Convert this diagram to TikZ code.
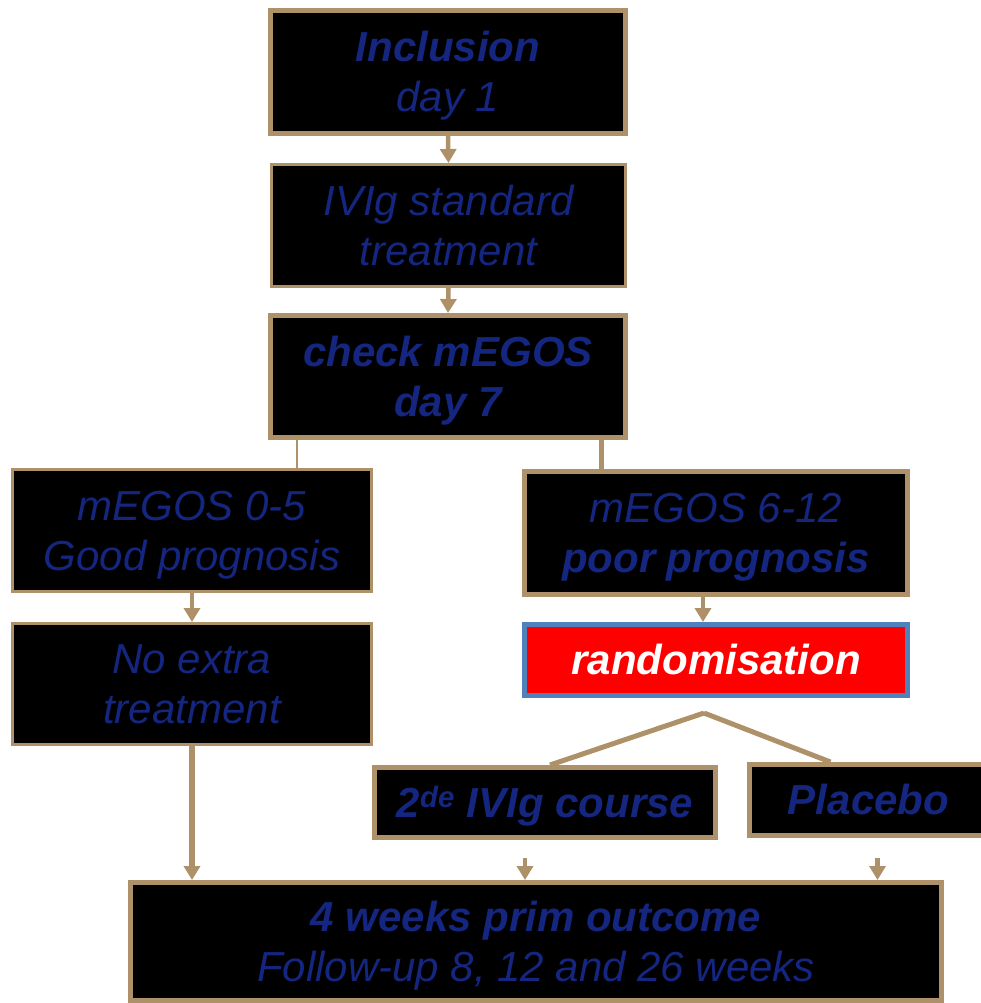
\documentclass[tikz,border=0pt]{standalone}
\usepackage{fontspec}
\setmainfont{Liberation Sans}
\usetikzlibrary{arrows.meta,calc}
\definecolor{tan}{RGB}{175,145,105}
\definecolor{navy}{RGB}{20,38,128}
\definecolor{randblue}{RGB}{79,129,189}
\definecolor{randred}{RGB}{255,0,0}
\newcommand{\topstr}{\rule{0pt}{38pt}}
\newcommand{\botstr}{\rule[-9pt]{0pt}{9pt}}
\begin{document}
\begin{tikzpicture}[x=1pt,y=-1pt,
  box/.style={draw=tan,fill=black,line width=5pt,rectangle,inner sep=0pt,
    text=navy,align=center,font=\fontsize{42}{50}\selectfont\itshape},
  thinbox/.style={box,line width=3pt},
  randbox/.style={box,draw=randblue,fill=randred,text=white},
  arr/.style={draw=tan,line width=4.5pt,-{Triangle[width=16pt,length=14pt]}},
  conn/.style={draw=tan,line width=5pt},
  thinconn/.style={draw=tan,line width=2pt}]
\useasboundingbox (0,0) rectangle (980,1003);

\node[box,minimum width=355pt,minimum height=123pt] (b1) at (448,72)
  {\topstr\textbf{Inclusion}\\day 1\botstr};
\node[thinbox,minimum width=354pt,minimum height=122pt] (b2) at (448.5,225.5)
  {\topstr IVIg standard\\treatment\botstr};
\node[box,minimum width=355pt,minimum height=122pt] (b3) at (448,376.5)
  {\topstr\textbf{check mEGOS}\\\textbf{day 7}\botstr};
\node[thinbox,minimum width=359pt,minimum height=122pt] (b4) at (192,530.5)
  {\topstr mEGOS 0-5\\Good prognosis\botstr};
\node[thinbox,minimum width=359pt,minimum height=121pt] (b5) at (192,684)
  {\topstr No extra\\treatment\botstr};
\node[box,minimum width=383pt,minimum height=123pt] (b6) at (716,533)
  {\topstr mEGOS 6-12\\\textbf{poor prognosis}\botstr};
\node[randbox,minimum width=383pt,minimum height=71pt] (rand) at (716,660)
  {\topstr\textbf{randomisation}\botstr};
\node[box,minimum width=341pt,minimum height=70pt] (b7) at (545,802.5)
  {\topstr\textbf{2\textsuperscript{de} IVIg course}\botstr};
\node[box,minimum width=238pt,minimum height=71pt] (b8) at (868.5,800)
  {\topstr\textbf{Placebo}\botstr};
\node[box,minimum width=811pt,minimum height=118pt] (bot) at (536,941.5)
  {\topstr\textbf{4 weeks prim outcome}\\Follow-up 8, 12 and 26 weeks\botstr};

\coordinate (apex) at (704,713);
\coordinate (a7) at ([shift={(-20,18)}]b7.south);
\coordinate (a8) at ([shift={(9,20)}]b8.south);
\coordinate (a6) at ([shift={(-13,0)}]b6.south);

\draw[arr] (b1.south) -- (b2.north);
\draw[arr] (b2.south) -- (b3.north);
\draw[thinconn] ([xshift=29pt]b3.south west) -- ([xshift=29pt]b3.south west |- b4.north);
\draw[conn] ([xshift=-27pt]b3.south east) -- ([xshift=-27pt]b3.south east |- b6.north);
\draw[arr] (b4.south) -- (b5.north);
\draw[arr] (a6) -- (a6 |- rand.north);
\draw[arr,line width=5.5pt] (b5.south) -- (b5.south |- bot.north);
\draw[conn] (apex) -- ([xshift=5pt]b7.north);
\draw[conn] (apex) -- ([xshift=-38pt]b8.north);
\draw[arr] (a7) -- (a7 |- bot.north);
\draw[arr] (a8) -- (a8 |- bot.north);
\end{tikzpicture}
\end{document}
